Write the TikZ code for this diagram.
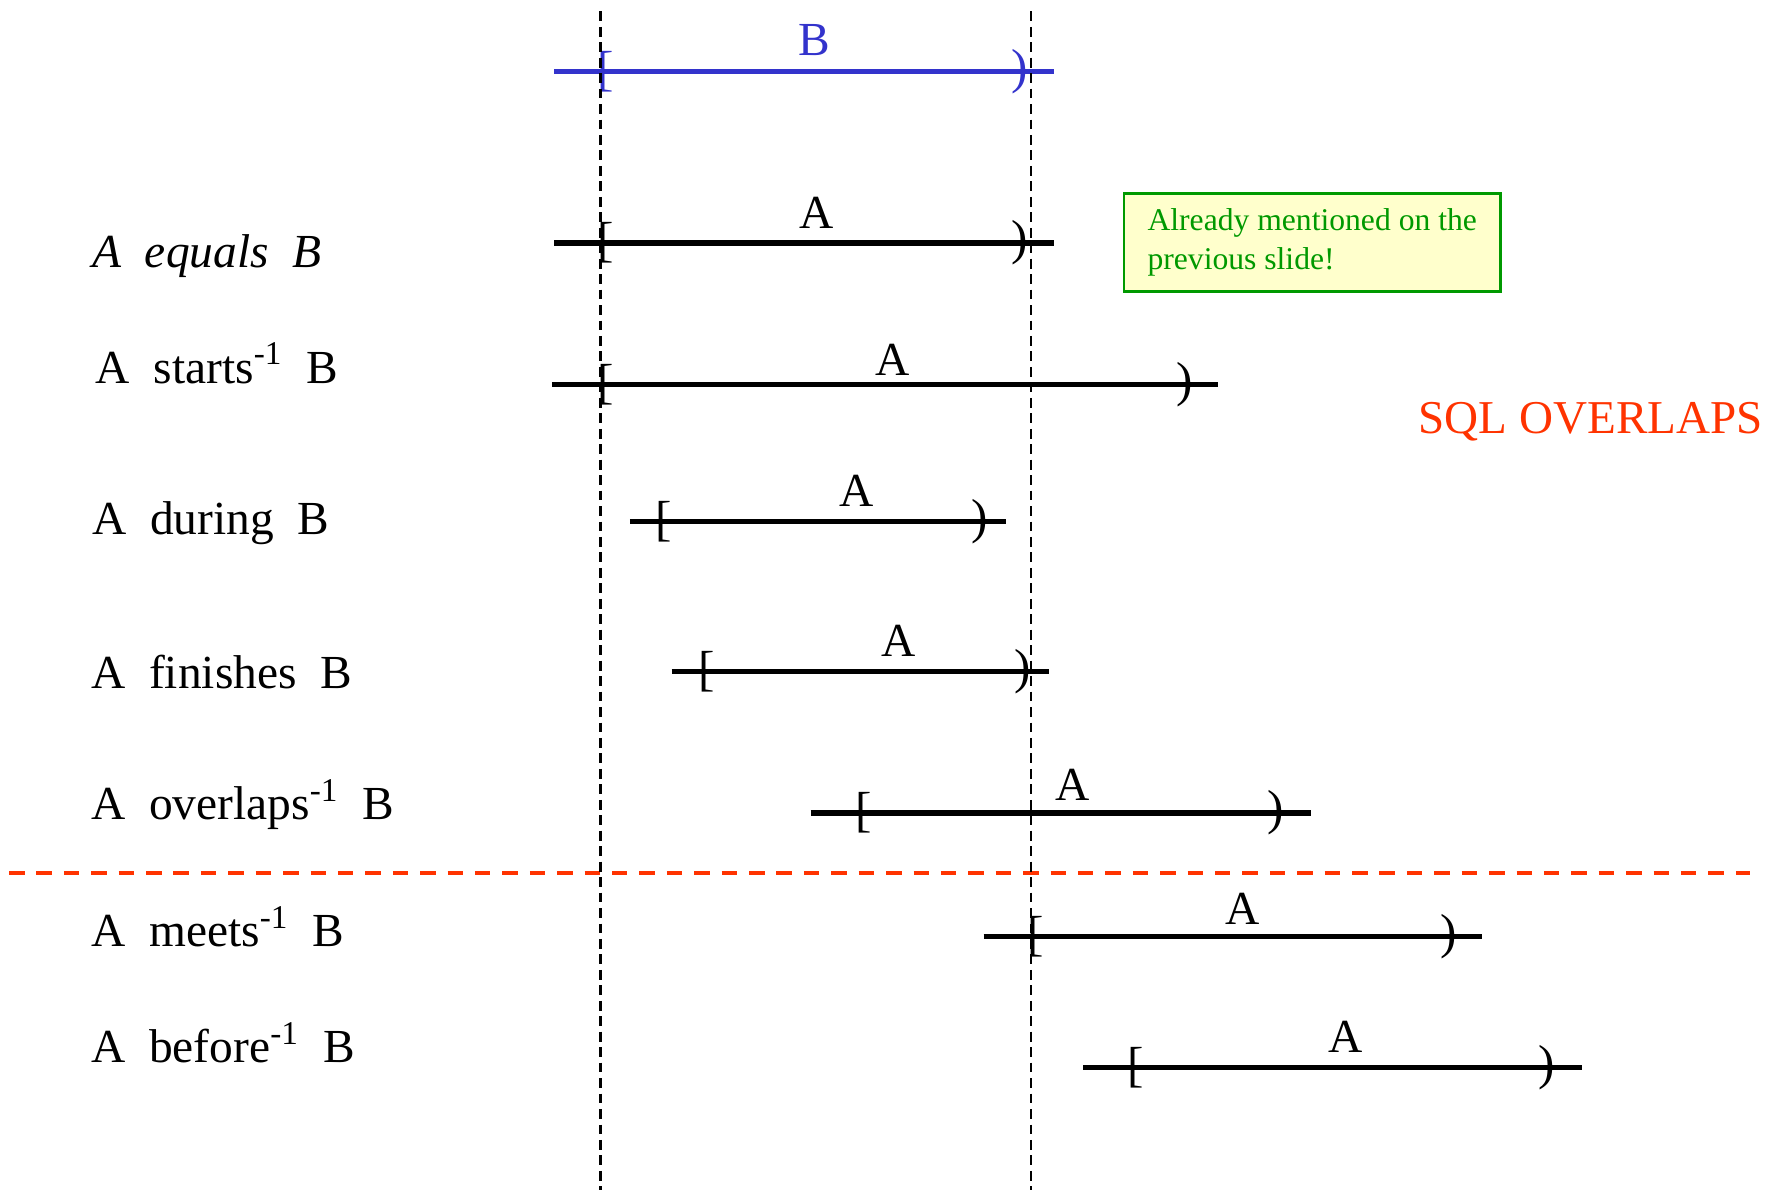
\documentclass[tikz,border=0pt]{standalone}
\usepackage{fontspec}
\setmainfont{Liberation Serif}
\usetikzlibrary{positioning}

\definecolor{ivblue}{HTML}{3333CC}
\definecolor{sqlred}{HTML}{FF3300}
\definecolor{notegreen}{HTML}{009900}
\definecolor{noteyellow}{HTML}{FFFFCC}

\begin{document}
\begin{tikzpicture}[
            x=0.1131mm, y=-0.1131mm,
            relname/.style={anchor=base west, inner sep=0, font=\fontsize{13.5}{16}\selectfont},
            ivname/.style={anchor=base, inner sep=0, font=\fontsize{13.5}{16}\selectfont},
            ivend/.style={inner sep=0, font=\fontsize{14}{16}\selectfont},
            ivline/.style={line width=1.5pt},
            guide/.style={line width=0.7pt, dash pattern=on 2.8pt off 1.6pt},
            cutline/.style={sqlred, line width=1.1pt, dash pattern=on 4.4pt off 3.4pt},
            note/.style={draw=notegreen, fill=noteyellow, line width=0.8pt, text=notegreen,
                align=left, minimum width=3.766cm, minimum height=0.984cm,
                font=\fontsize{9}{10.9}\selectfont}
        ]
            \useasboundingbox (0,0) rectangle (1568,1052);

            % interval B
            \draw[ivline, ivblue] (490,63) -- (932,63);
            \node[ivend, ivblue] (bopen) at (536,63) {[};
            \node[ivend, ivblue] (bclose) at (902,63) {)};
            \node[ivname, ivblue] (bname) at (720,49) {B};

            % relations
            \node[relname] (equals) at (81,237) {\textit{A~~equals~~B}};
            \draw[ivline] (490,215) -- (932,215);
            \node[ivend] (eqopen) at (536,215) {[};
            \node[ivend] (eqclose) at (902,215) {)};
            \node[ivname] (eqname) at (722,202) {A};
            \node[note] (prev) at (1160.5,214.5) {Already mentioned on the\\previous slide!};

            \node[relname] (starts) at (84,339) {A~~starts\textsuperscript{-1}~~B};
            \draw[ivline] (488,340) -- (1077,340);
            \node[ivend] (stopen) at (536,340) {[};
            \node[ivend] (stclose) at (1048,340) {)};
            \node[ivname] (stname) at (789,332) {A};
            \node[anchor=base west, inner sep=0, text=sqlred, font=\fontsize{13.4}{16}\selectfont] (sql) at (1254,383) {SQL OVERLAPS};

            \node[relname] (during) at (81,473) {A~~during~~B};
            \draw[ivline] (557,461) -- (890,461);
            \node[ivend] (duopen) at (587,461) {[};
            \node[ivend] (duclose) at (866,461) {)};
            \node[ivname] (duname) at (758,448) {A};

            \node[relname] (finishes) at (80,609) {A~~finishes~~B};
            \draw[ivline] (594,594) -- (928,594);
            \node[ivend] (fiopen) at (625,594) {[};
            \node[ivend] (ficlose) at (904,594) {)};
            \node[ivname] (finame) at (795,581) {A};

            \node[relname] (overlaps) at (80,725) {A~~overlaps\textsuperscript{-1}~~B};
            \draw[ivline] (717,719) -- (1159,719);
            \node[ivend] (ovopen) at (764,719) {[};
            \node[ivend] (ovclose) at (1128,719) {)};
            \node[ivname] (ovname) at (949,708) {A};

            \draw[cutline] (8,772) -- (1548,772);

            \node[relname] (meets) at (80,837) {A~~meets\textsuperscript{-1}~~B};
            \draw[ivline] (870,828) -- (1311,828);
            \node[ivend] (meopen) at (916,828) {[};
            \node[ivend] (meclose) at (1281,828) {)};
            \node[ivname] (mename) at (1099,818) {A};

            \node[relname] (before) at (80,940) {A~~before\textsuperscript{-1}~~B};
            \draw[ivline] (958,944) -- (1399,944);
            \node[ivend] (beopen) at (1004,944) {[};
            \node[ivend] (beclose) at (1368,944) {)};
            \node[ivname] (bename) at (1190,931) {A};

            % start and end of B
            \draw[guide] (531,10) -- (531,1052);
            \draw[guide] (912,10) -- (912,1052);
        \end{tikzpicture}
\end{document}
